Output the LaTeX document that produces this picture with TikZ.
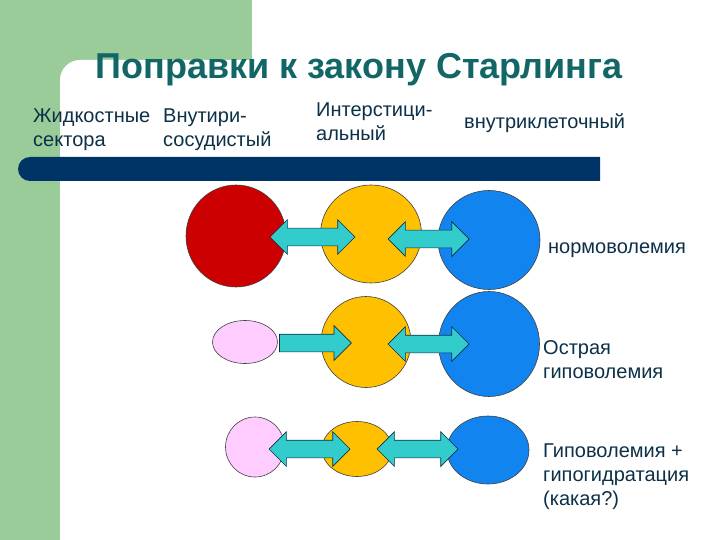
\documentclass[tikz,border=0pt]{standalone}
\usepackage{fontspec}
\setmainfont{Liberation Sans}
\usetikzlibrary{shapes.geometric,shapes.arrows,positioning}
\definecolor{slidegreen}{RGB}{153,204,153}
\definecolor{barblue}{RGB}{0,51,102}
\definecolor{titleteal}{RGB}{18,102,102}
\definecolor{textblue}{RGB}{12,48,72}
\definecolor{bloodred}{RGB}{204,0,0}
\definecolor{interyellow}{RGB}{255,192,0}
\definecolor{cellblue}{RGB}{17,132,240}
\definecolor{palepink}{RGB}{255,204,255}
\definecolor{flowcyan}{RGB}{51,204,204}

\begin{document}
\begin{tikzpicture}[x=1pt, y=-1pt,
    sector/.style={ellipse, draw=black!75, line width=0.6pt, inner sep=0pt},
    flow/.style={double arrow, draw=textblue, fill=flowcyan, line width=0.7pt,
      inner xsep=0pt, inner ysep=8.5pt, double arrow head extend=8.5pt,
      double arrow tip angle=90},
    inflow/.style={single arrow, draw=textblue, fill=flowcyan, line width=0.7pt,
      inner xsep=0pt, inner ysep=8.5pt, single arrow head extend=8.5pt,
      single arrow tip angle=90},
    headtxt/.style={text=textblue, font=\fontsize{20}{24}\selectfont,
      align=left, anchor=base west, inner sep=0pt}]

    \useasboundingbox (0,0) rectangle (720,540);

    % Slide background
    \fill[slidegreen] (0,0) rectangle (252,540);
    \fill[white] (720,60) -- (80,60) arc[start angle=-90, end angle=-180, radius=20]
      -- (60,540) -- (720,540) -- cycle;
    \fill[barblue] (600,157) -- (30,157) arc[start angle=-90, end angle=-270, radius=12]
      -- (600,181) -- cycle;

    % Title and headings (base = last line)
    \node[text=titleteal, font=\fontsize{36}{43}\selectfont\bfseries, anchor=base, inner sep=0pt] (title) at (359,79) {Поправки к закону Старлинга};
    \node[headtxt] (hsector) at (33,147) {Жидкостные\\сектора};
    \node[headtxt] (hvessel) at (163,147) {Внутири-\\сосудистый};
    \node[headtxt] (hinter) at (316,141) {Интерстици-\\альный};
    \node[headtxt] (hcell) at (464,129) {внутриклеточный};

    % Sectors
    \node[sector, fill=bloodred, minimum width=100pt, minimum height=102pt] (vessel1) at (236,236) {};
    \node[sector, fill=interyellow, minimum width=101pt, minimum height=98pt] (inter1) at (371,234) {};
    \node[sector, fill=cellblue, minimum width=102pt, minimum height=99pt] (cell1) at (489,240) {};

    \node[sector, fill=palepink, minimum width=65pt, minimum height=43pt] (vessel2) at (245,342) {};
    \node[sector, fill=interyellow, minimum width=90pt, minimum height=91pt] (inter2) at (366,342) {};
    \node[sector, fill=cellblue, minimum width=101pt, minimum height=105pt] (cell2) at (489,344) {};

    \node[sector, fill=palepink, minimum width=59pt, minimum height=60pt] (vessel3) at (255,447) {};
    \node[sector, fill=interyellow, minimum width=70pt, minimum height=55pt] (inter3) at (357,449) {};
    \node[sector, fill=cellblue, minimum width=82pt, minimum height=68pt] (cell3) at (488,450) {};

    % Fluid shifts
    \node[flow, minimum height=85pt] (vi1) at (312.5,237) {};
    \node[flow, minimum height=81pt] (ic1) at (428.5,239) {};
    \node[inflow, minimum height=72pt] (vi2) at (311,343) {};
    \node[flow, minimum height=81pt] (ic2) at (428.5,344) {};
    \node[flow, minimum height=81pt] (vi3) at (309.5,449) {};
    \node[flow, minimum height=81pt] (ic3) at (417.5,449) {};

    % States
    \node[headtxt] (norm) at (548,253) {нормоволемия};
    \node[headtxt] (acute) at (543,378) {Острая\\гиповолемия};
    \node[headtxt] (dehyd) at (543,505) {Гиповолемия +\\гипогидратация\\(какая?)};

\end{tikzpicture}
\end{document}
